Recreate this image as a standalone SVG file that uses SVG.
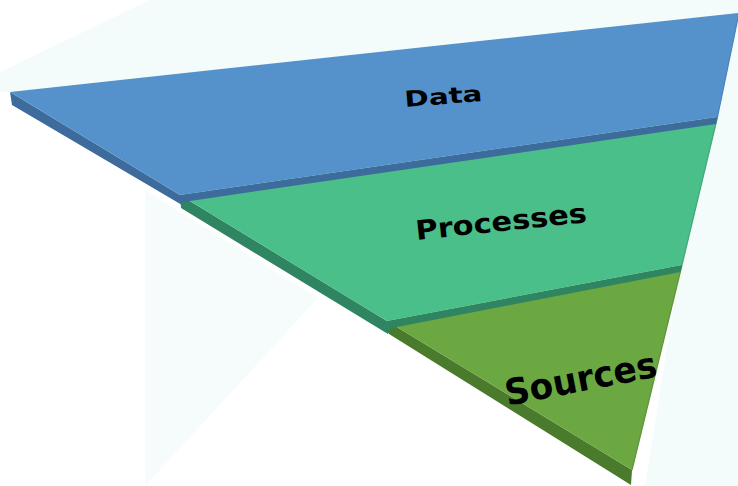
<svg xmlns="http://www.w3.org/2000/svg" width="738" height="486" viewBox="0 0 738 486">
  <defs>
    <style>
      .face-data { fill: #5592cb; }
      .side-data { fill: #3d6b9b; }
      .face-proc { fill: #4abf89; }
      .side-proc { fill: #2f8562; }
      .face-src { fill: #6ca842; }
      .side-src { fill: #4a7a2b; }
      .edge { fill: none; stroke-width: 1.2; stroke-linejoin: round; }
      .label { font-family: "DejaVu Sans", "Liberation Sans", sans-serif; font-weight: bold; fill: #000000; text-anchor: middle; }
    </style>
  </defs>

  <!-- backdrop -->
  <rect x="0" y="0" width="738" height="486" fill="#ffffff"/>
  <polygon points="150,0 738,0 738,486 645,486 700,140 10,92 0,92 0,72" fill="#f3fbfb"/>
  <polygon points="145,190 318,298 145,486" fill="#f6fcfc"/>

  <!-- bottom tier -->
  <g id="sources">
    <path class="side-src" d="M387,321 L632,470 L631,485 L389,334 Z"/>
    <path class="face-src" d="M387,321 L682,265 L632,470 Z"/>
    <path class="edge" stroke="#5e9438" d="M682,265 L632,470"/>
    <text class="label" font-size="36" x="583" y="391" textLength="154" lengthAdjust="spacingAndGlyphs" transform="rotate(-11 583 391)">Sources</text>
  </g>

  <!-- middle tier -->
  <g id="processes">
    <path class="side-proc" d="M180,195 L387,321 L682,265 L680.5,272 L392,328 L388,334 L181,208 Z"/>
    <path class="face-proc" d="M180,195 L717.5,117 L682,265 L387,321 Z"/>
    <path class="edge" stroke="#3fa879" d="M717.5,117 L682,265"/>
    <text class="label" font-size="27" x="502" y="231" textLength="172" lengthAdjust="spacingAndGlyphs" transform="rotate(-6 502 231)">Processes</text>
  </g>

  <!-- top tier -->
  <g id="data">
    <path class="side-data" d="M10,92 L180,195 L717.5,117 L716,124 L183,202 L182,205 L12,105 Z"/>
    <path class="face-data" d="M10,92 L739,13 L717.5,117 L180,195 Z"/>
    <path class="edge" stroke="#4b82b8" d="M739,13 L717.5,117"/>
    <text class="label" font-size="22" x="444" y="104" textLength="78" lengthAdjust="spacingAndGlyphs" transform="rotate(-4.5 444 104)">Data</text>
  </g>

  <!-- no connectors in this figure -->
  <g id="connectors"/>
</svg>
